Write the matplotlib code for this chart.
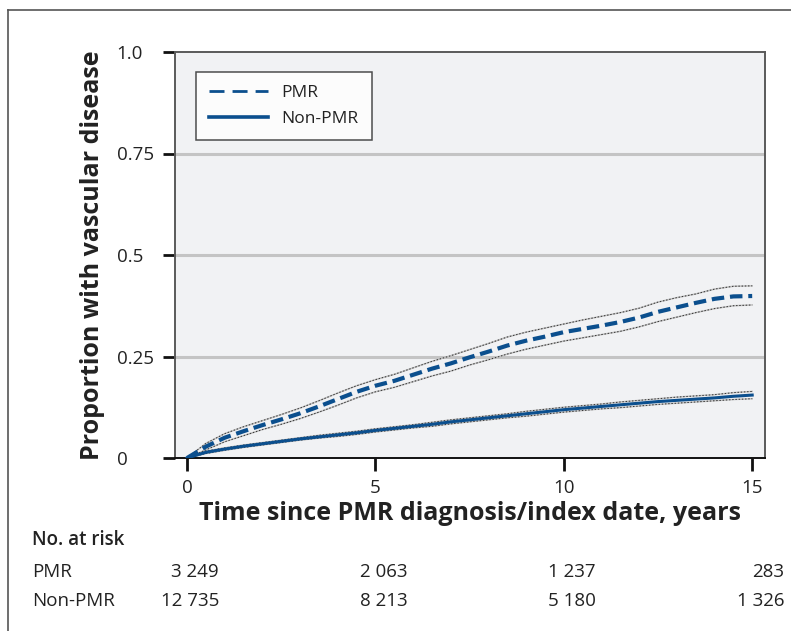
import matplotlib
matplotlib.use("Agg")
import matplotlib.pyplot as plt
from matplotlib.lines import Line2D
from matplotlib.transforms import blended_transform_factory

plt.rcParams['font.family'] = ['Open Sans', 'DejaVu Sans']

# ---- data ----
years = [0, 0.5, 1, 1.5, 2, 2.5, 3, 3.5, 4, 4.5, 5, 5.5, 6, 6.5, 7, 7.5, 8,
         8.5, 9, 9.5, 10, 10.5, 11, 11.5, 12, 12.5, 13, 13.5, 14, 14.5, 15]

pmr = [0, 0.028, 0.050, 0.066, 0.081, 0.095, 0.110, 0.127, 0.145, 0.163, 0.178,
       0.190, 0.205, 0.220, 0.233, 0.248, 0.262, 0.277, 0.289, 0.299, 0.310,
       0.318, 0.326, 0.335, 0.346, 0.360, 0.371, 0.382, 0.392, 0.398, 0.399]
pmr_upper = [0, 0.036, 0.060, 0.077, 0.092, 0.107, 0.123, 0.141, 0.160, 0.178, 0.193,
             0.206, 0.222, 0.238, 0.252, 0.267, 0.282, 0.298, 0.310, 0.320, 0.330,
             0.340, 0.349, 0.358, 0.369, 0.384, 0.395, 0.404, 0.416, 0.423, 0.424]
pmr_lower = [0, 0.020, 0.040, 0.055, 0.070, 0.083, 0.097, 0.113, 0.130, 0.148, 0.163,
             0.174, 0.188, 0.202, 0.214, 0.229, 0.242, 0.256, 0.268, 0.278, 0.288,
             0.296, 0.304, 0.312, 0.323, 0.336, 0.347, 0.358, 0.368, 0.375, 0.377]

nonpmr = [0, 0.014, 0.022, 0.029, 0.035, 0.041, 0.047, 0.052, 0.057, 0.062, 0.068,
          0.073, 0.078, 0.083, 0.089, 0.094, 0.099, 0.104, 0.109, 0.114, 0.119,
          0.123, 0.127, 0.131, 0.135, 0.139, 0.142, 0.145, 0.148, 0.152, 0.155]
nonpmr_upper = [0, 0.017, 0.025, 0.032, 0.038, 0.044, 0.050, 0.056, 0.061, 0.066, 0.072,
                0.077, 0.082, 0.088, 0.094, 0.099, 0.104, 0.109, 0.115, 0.120, 0.125,
                0.129, 0.133, 0.138, 0.142, 0.146, 0.150, 0.153, 0.156, 0.161, 0.164]
nonpmr_lower = [0, 0.011, 0.019, 0.026, 0.032, 0.038, 0.044, 0.049, 0.053, 0.058, 0.064,
                0.069, 0.074, 0.078, 0.084, 0.089, 0.094, 0.099, 0.103, 0.108, 0.113,
                0.117, 0.121, 0.124, 0.128, 0.132, 0.135, 0.138, 0.141, 0.144, 0.146]

y_ticks = [0, 0.25, 0.5, 0.75, 1.0]
y_tick_labels = ["0", "0.25", "0.5", "0.75", "1.0"]
x_ticks = [0, 5, 10, 15]
x_tick_labels = ["0", "5", "10", "15"]

risk_groups = ["PMR", "Non-PMR"]
risk_pmr = ["3 249", "2 063", "1 237", "283"]
risk_nonpmr = ["12 735", "8 213", "5 180", "1 326"]

BLUE = "#0b4f8e"

fig = plt.figure(figsize=(7.91, 6.31), dpi=100)
ax = fig.add_axes([175/791, (631-458)/631, 590/791, 406/631])
ax.set_facecolor("#f1f2f4")
ax.set_xlim(-0.32, 15.34)
ax.set_ylim(0, 1.0)

for g in [0.25, 0.5, 0.75]:
    ax.axhline(g, color="#c4c4c4", lw=2.2, zorder=1)

# confidence bands (dotted lines)
for band in (pmr_upper, pmr_lower, nonpmr_upper, nonpmr_lower):
    ax.plot(years, band, color="#c0c0c0", lw=1.1, zorder=2)
    ax.plot(years, band, color="#333333", lw=0.7, dashes=(1.5, 1.8), zorder=3)

ax.plot(years, pmr, color=BLUE, lw=3.0, dashes=(3.0, 1.4), zorder=4, label="PMR")
ax.plot(years, nonpmr, color=BLUE, lw=2.2, zorder=4, label="Non-PMR")

# spines
for s in ["left", "top", "right"]:
    ax.spines[s].set_color("#5a5a5a")
    ax.spines[s].set_linewidth(1.4)
ax.spines["bottom"].set_color("#111111")
ax.spines["bottom"].set_linewidth(1.4)

ax.set_yticks(y_ticks)
ax.set_yticklabels(y_tick_labels)
ax.set_xticks(x_ticks)
ax.set_xticklabels(x_tick_labels)
ax.tick_params(axis="y", length=9, width=2, color="#111111", pad=33,
               labelsize=13.5, labelcolor="#222222")
ax.tick_params(axis="x", length=9, width=2, color="#111111", pad=6,
               labelsize=13.5, labelcolor="#222222")
for lab in ax.get_yticklabels():
    lab.set_horizontalalignment("left")

ax.set_xlabel("Time since PMR diagnosis/index date, years", fontsize=18,
              fontweight="bold", color="#222222", labelpad=3)
ax.set_ylabel("Proportion with vascular disease", fontsize=18,
              fontweight="bold", color="#222222")
ax.yaxis.set_label_coords(-0.118, 0.5)

handles = [Line2D([], [], color=BLUE, lw=2.0, dashes=(5.4, 2.9)),
           Line2D([], [], color=BLUE, lw=2.6)]
leg = ax.legend(handles, ["PMR", "Non-PMR"], loc="upper left",
                bbox_to_anchor=(0.035, 0.95), fontsize=12.5, frameon=True,
                fancybox=False, edgecolor="#222222", handlelength=3.4,
                handletextpad=0.8, borderpad=0.75, labelspacing=0.55,
                borderaxespad=0)
leg.get_frame().set_linewidth(1.1)
for t in leg.get_texts():
    t.set_color("#222222")

# outer frame (left and top edges visible)
fig.add_artist(Line2D([8/791, 8/791], [0, 1 - 10/631], transform=fig.transFigure,
                      color="#555555", lw=1.2))
fig.add_artist(Line2D([8/791, 1], [1 - 10/631, 1 - 10/631], transform=fig.transFigure,
                      color="#555555", lw=1.2))

# number at risk table
trans = blended_transform_factory(ax.transData, fig.transFigure)
fs = 13.5
fig.text(32/791, 1 - 540/631, "No. at risk", fontsize=fs, fontweight="semibold",
         color="#222222", va="center", ha="left")
rows_y = [1 - 572/631, 1 - 601/631]
for name, vals, yy in zip(risk_groups, [risk_pmr, risk_nonpmr], rows_y):
    fig.text(32/791, yy, name, fontsize=fs, color="#222222", va="center", ha="left")
    for xt, v in zip(x_ticks, vals):
        ax.text(xt + 0.85, yy, v, transform=trans, fontsize=fs, color="#222222",
                va="center", ha="right", clip_on=False)

fig.savefig("out.png", dpi=100)
